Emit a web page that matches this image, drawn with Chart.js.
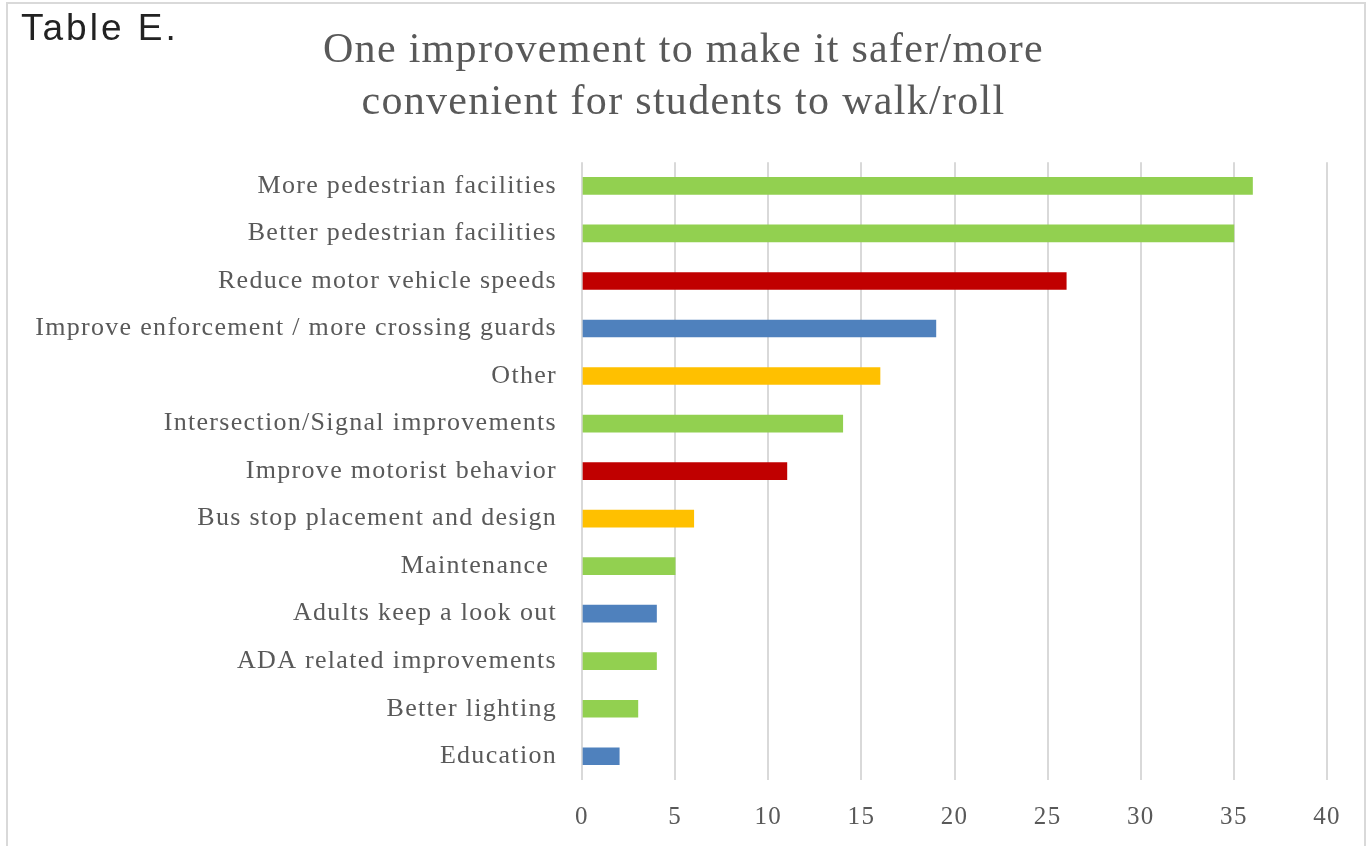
<!DOCTYPE html>
<html>
<head>
<meta charset="utf-8">
<script src="https://cdn.jsdelivr.net/npm/chart.js@4"></script>
<style>
    html, body { margin: 0; padding: 0; background: #fff; overflow: hidden; }
    #frame {
        position: absolute; left: 6px; top: 2px; width: 1360px; height: 900px;
        border: 2px solid #d9d9d9; box-sizing: border-box;
    }
    #tag {
        position: absolute; left: 21px; top: 7px;
        font-family: "Liberation Sans", Arial, sans-serif; font-size: 37px;
        letter-spacing: 3px; color: #222;
    }
    canvas { position: absolute; left: 0; top: 0; }
</style>
</head>
<body>
<div id="frame"></div>
<canvas id="improvementChart" width="1372" height="846"></canvas>
<div id="tag">Table E.</div>
<script>
// Survey answers, top bar first
const categories = [
    'More pedestrian facilities',
    'Better pedestrian facilities',
    'Reduce motor vehicle speeds',
    'Improve enforcement / more crossing guards',
    'Other',
    'Intersection/Signal improvements',
    'Improve motorist behavior',
    'Bus stop placement and design',
    'Maintenance ',
    'Adults keep a look out',
    'ADA related improvements',
    'Better lighting',
    'Education'
];
const responses = [36, 35, 26, 19, 16, 14, 11, 6, 5, 4, 4, 3, 2];
const groups = ['green', 'green', 'red', 'blue', 'yellow', 'green', 'red',
                'yellow', 'green', 'blue', 'green', 'green', 'blue'];
const xTicks = [0, 5, 10, 15, 20, 25, 30, 35, 40];

const groupColors = {
    green: '#92D050',
    red: '#C00000',
    blue: '#4F81BD',
    yellow: '#FFC000'
};

const serif = '"Liberation Serif", "Times New Roman", serif';
const textGray = '#595959';

// spread the serif letters a little: axis labels first, the title
// (drawn after the bars, z: 1) gets a wider spacing
const letterSpacing = {
    id: 'letterSpacing',
    afterLayout(chart) {
        // centre the title on the page, not on the right-padded box
        if (chart.titleBlock) {
            chart.titleBlock.left = 40;
        }
    },
    beforeDraw(chart) {
        chart.ctx.letterSpacing = '1.3px';
    },
    afterDatasetsDraw(chart) {
        chart.ctx.letterSpacing = '3px';
    },
    afterDraw(chart) {
        chart.ctx.letterSpacing = '0px';
    }
};

new Chart(document.getElementById('improvementChart'), {
    type: 'bar',
    data: {
        labels: categories,
        datasets: [{
            data: responses,
            backgroundColor: groups.map(g => groupColors[g]),
            barThickness: 17
        }]
    },
    options: {
        indexAxis: 'y',
        responsive: false,
        animation: false,
        layout: {
            padding: { top: 0, left: 0, right: 45, bottom: 0 }
        },
        plugins: {
            legend: { display: false },
            tooltip: { enabled: false },
            title: {
                display: true,
                z: 1,
                text: ['One improvement to make it safer/more', 'convenient for students to walk/roll'],
                color: textGray,
                font: { family: serif, size: 42, weight: 'normal', lineHeight: 1.24 },
                padding: { top: 25, bottom: 33 }
            }
        },
        scales: {
            x: {
                min: 0,
                max: 40,
                afterBuildTicks(scale) {
                    scale.ticks = xTicks.map(v => ({ value: v }));
                },
                afterFit(scale) {
                    scale.height = 66;
                },
                grid: {
                    color: '#d9d9d9',
                    lineWidth: 2,
                    drawTicks: false
                },
                border: { display: false },
                ticks: {
                    color: textGray,
                    padding: 22,
                    font: { family: serif, size: 25 }
                }
            },
            y: {
                afterFit(scale) {
                    scale.width = 582;
                },
                grid: { display: false, drawTicks: false },
                border: { display: false },
                ticks: {
                    color: textGray,
                    padding: 25,
                    font: { family: serif, size: 26 }
                }
            }
        }
    },
    plugins: [letterSpacing]
});
</script>
</body>
</html>
